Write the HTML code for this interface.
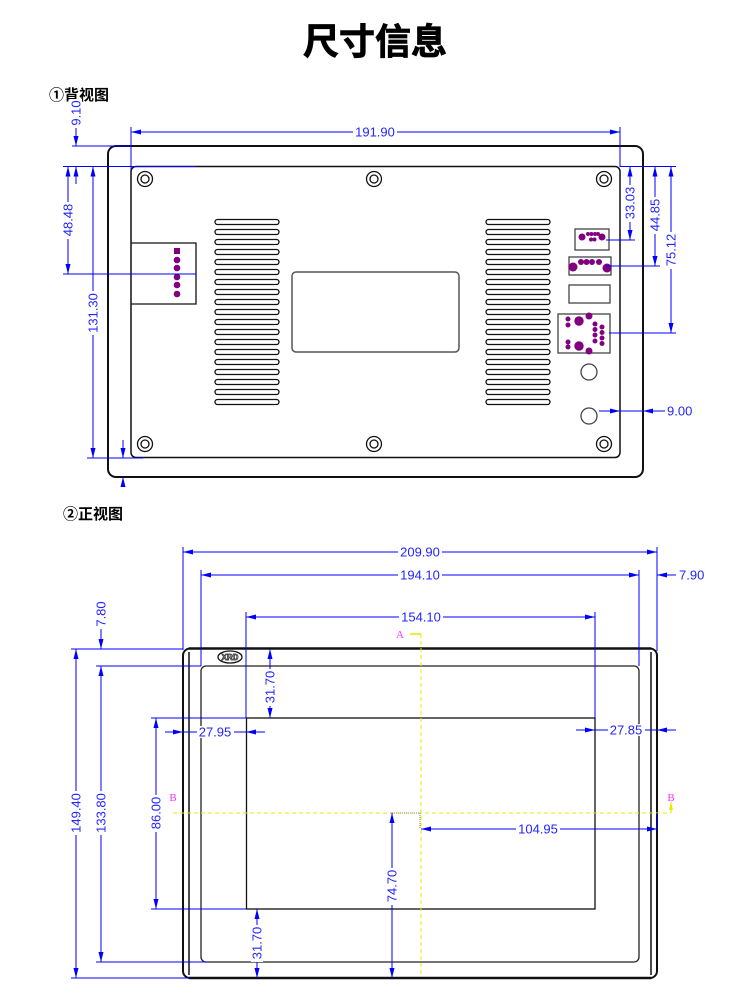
<!DOCTYPE html>
<html><head><meta charset="utf-8"><style>
html,body{margin:0;padding:0;background:#fff;}
svg{display:block}
.d{font-family:"Liberation Sans",sans-serif;font-size:13px;fill:#2424ff;stroke:#fff;stroke-width:3;paint-order:stroke;stroke-linejoin:round}
.b{stroke:#0000ff;stroke-width:1;fill:none}
.k{stroke:#111;fill:none}
.v{stroke:#111;stroke-width:1.3;fill:none}
.p{fill:#800080}
.w{fill:#fff}
</style></head><body>
<svg width="750" height="1000" viewBox="0 0 750 1000" xmlns="http://www.w3.org/2000/svg">
<defs>
<marker id="a" markerUnits="userSpaceOnUse" markerWidth="10" markerHeight="5" viewBox="0 0 10 5" refX="10" refY="2.5" orient="auto-start-reverse"><path d="M0,0L10,2.5L0,5z" fill="#0000ff"/></marker>
<marker id="ay" markerUnits="userSpaceOnUse" markerWidth="8" markerHeight="4" viewBox="0 0 10 5" refX="10" refY="2.5" orient="auto"><path d="M0,0L10,2.5L0,5z" fill="#e8e800"/></marker>
</defs>

<!-- Title -->
<text x="375" y="54" text-anchor="middle" font-family="'Noto Sans CJK SC','WenQuanYi Zen Hei',sans-serif" font-weight="bold" font-size="36" fill="#000" stroke="#000" stroke-width="0.8">尺寸信息</text>
<text x="49" y="100" font-family="'Liberation Sans','Noto Sans CJK SC',sans-serif" font-weight="bold" font-size="15" fill="#000">①背视图</text>
<text x="63" y="519" font-family="'Liberation Sans','Noto Sans CJK SC',sans-serif" font-weight="bold" font-size="15" fill="#000">②正视图</text>

<!-- ================= BACK VIEW ================= -->
<rect x="108" y="146" width="535" height="331" rx="8" class="k" stroke-width="2"/>
<rect x="131" y="166.5" width="489" height="291" rx="5" class="k" stroke-width="1.5"/>

<!-- screw holes -->
<g class="v">
<circle cx="145" cy="179" r="7.5"/><circle cx="145" cy="179" r="4"/>
<circle cx="374" cy="179" r="7.5"/><circle cx="374" cy="179" r="4"/>
<circle cx="604" cy="179" r="7.5"/><circle cx="604" cy="179" r="4"/>
<circle cx="145" cy="444" r="7.5"/><circle cx="145" cy="444" r="4"/>
<circle cx="374" cy="444" r="7.5"/><circle cx="374" cy="444" r="4"/>
<circle cx="604" cy="444" r="7.5"/><circle cx="604" cy="444" r="4"/>
</g>

<!-- left connector -->
<path d="M131,243H196V304H131" class="v"/>
<rect x="174" y="248" width="6" height="6" class="p"/>
<circle cx="177" cy="260" r="3.3" class="p"/>
<circle cx="177" cy="268" r="3.3" class="p"/>
<circle cx="177" cy="277" r="3.3" class="p"/>
<circle cx="177" cy="285" r="3.3" class="p"/>
<circle cx="177" cy="294" r="3.3" class="p"/>

<!-- vents -->
<g class="v">
<rect x="215" y="219.5" width="64" height="5" rx="2.5"/><rect x="215" y="229.5" width="64" height="5" rx="2.5"/><rect x="215" y="239.5" width="64" height="5" rx="2.5"/><rect x="215" y="249.5" width="64" height="5" rx="2.5"/><rect x="215" y="259.5" width="64" height="5" rx="2.5"/><rect x="215" y="269.5" width="64" height="5" rx="2.5"/><rect x="215" y="279.5" width="64" height="5" rx="2.5"/><rect x="215" y="289.5" width="64" height="5" rx="2.5"/><rect x="215" y="299.5" width="64" height="5" rx="2.5"/><rect x="215" y="309.5" width="64" height="5" rx="2.5"/><rect x="215" y="319.5" width="64" height="5" rx="2.5"/><rect x="215" y="329.5" width="64" height="5" rx="2.5"/><rect x="215" y="339.5" width="64" height="5" rx="2.5"/><rect x="215" y="349.5" width="64" height="5" rx="2.5"/><rect x="215" y="359.5" width="64" height="5" rx="2.5"/><rect x="215" y="369.5" width="64" height="5" rx="2.5"/><rect x="215" y="379.5" width="64" height="5" rx="2.5"/><rect x="215" y="389.5" width="64" height="5" rx="2.5"/><rect x="215" y="399.5" width="64" height="5" rx="2.5"/>
<rect x="486" y="219.5" width="64" height="5" rx="2.5"/><rect x="486" y="229.5" width="64" height="5" rx="2.5"/><rect x="486" y="239.5" width="64" height="5" rx="2.5"/><rect x="486" y="249.5" width="64" height="5" rx="2.5"/><rect x="486" y="259.5" width="64" height="5" rx="2.5"/><rect x="486" y="269.5" width="64" height="5" rx="2.5"/><rect x="486" y="279.5" width="64" height="5" rx="2.5"/><rect x="486" y="289.5" width="64" height="5" rx="2.5"/><rect x="486" y="299.5" width="64" height="5" rx="2.5"/><rect x="486" y="309.5" width="64" height="5" rx="2.5"/><rect x="486" y="319.5" width="64" height="5" rx="2.5"/><rect x="486" y="329.5" width="64" height="5" rx="2.5"/><rect x="486" y="339.5" width="64" height="5" rx="2.5"/><rect x="486" y="349.5" width="64" height="5" rx="2.5"/><rect x="486" y="359.5" width="64" height="5" rx="2.5"/><rect x="486" y="369.5" width="64" height="5" rx="2.5"/><rect x="486" y="379.5" width="64" height="5" rx="2.5"/><rect x="486" y="389.5" width="64" height="5" rx="2.5"/><rect x="486" y="399.5" width="64" height="5" rx="2.5"/>
</g>

<!-- center rect -->
<rect x="292" y="272" width="167" height="80" rx="4" fill="none" stroke="#555" stroke-width="1.5"/>

<!-- right connectors -->
<g fill="none" stroke="#444" stroke-width="1.3">
<rect x="575" y="229" width="34" height="21"/>
<rect x="569" y="257" width="42" height="18"/>
<rect x="569" y="285" width="41" height="18"/>
<rect x="558" y="314" width="52" height="39"/>
<circle cx="589" cy="372" r="8"/>
<circle cx="589" cy="416" r="8"/>
</g>
<g class="p">
<circle cx="582" cy="237" r="3.5"/><circle cx="602" cy="237" r="3.5"/>
<circle cx="588" cy="234" r="2"/><circle cx="591.5" cy="234" r="2"/><circle cx="595" cy="234" r="2"/><circle cx="598" cy="234" r="2"/>
<circle cx="591" cy="239.5" r="2"/><circle cx="594.5" cy="239.5" r="2"/>
<circle cx="573" cy="267" r="4.5"/><circle cx="607" cy="268" r="4.5"/>
<circle cx="581" cy="262" r="3"/><circle cx="586.5" cy="262" r="3"/><circle cx="592" cy="262" r="3"/><circle cx="599" cy="262" r="3"/>
<circle cx="568" cy="319" r="2.5"/><circle cx="568" cy="325" r="2.5"/><circle cx="579" cy="321" r="4.7"/><circle cx="589" cy="316" r="3.5"/>
<circle cx="595" cy="324" r="2.5"/><circle cx="595" cy="329.5" r="2.5"/><circle cx="595" cy="335" r="2.5"/><circle cx="595" cy="341" r="2.5"/>
<circle cx="602" cy="327" r="2.5"/><circle cx="602" cy="332.5" r="2.5"/><circle cx="602" cy="338" r="2.5"/><circle cx="602" cy="343.5" r="2.5"/>
<circle cx="568" cy="342" r="2.5"/><circle cx="568" cy="347" r="2.5"/><circle cx="579" cy="346" r="4.7"/><circle cx="589" cy="351" r="3.5"/>
</g>

<!-- back view dimension lines -->
<g class="b">
<line x1="131" y1="132" x2="620" y2="132" marker-start="url(#a)" marker-end="url(#a)"/>
<line x1="131" y1="127" x2="131" y2="170"/>
<line x1="620" y1="127" x2="620" y2="167"/>
<line x1="72" y1="146" x2="131" y2="146"/>
<line x1="63" y1="166.5" x2="196" y2="166.5"/>
<line x1="63" y1="274" x2="196" y2="274"/>
<line x1="87" y1="458" x2="143" y2="458"/>
<line x1="76" y1="124" x2="76" y2="146" marker-end="url(#a)"/>
<line x1="76" y1="184" x2="76" y2="166.5" marker-end="url(#a)"/>
<line x1="68" y1="166.5" x2="68" y2="274" marker-start="url(#a)" marker-end="url(#a)"/>
<line x1="93" y1="166.5" x2="93" y2="458" marker-start="url(#a)" marker-end="url(#a)"/>
<line x1="123" y1="440" x2="123" y2="458" marker-end="url(#a)"/>
<line x1="123" y1="487" x2="123" y2="477" marker-end="url(#a)"/>
<line x1="620" y1="166.5" x2="676" y2="166.5"/>
<line x1="606" y1="240" x2="635" y2="240"/>
<line x1="606" y1="266" x2="660" y2="266"/>
<line x1="609" y1="333" x2="676" y2="333"/>
<line x1="630" y1="166.5" x2="630" y2="240" marker-start="url(#a)" marker-end="url(#a)"/>
<line x1="655" y1="166.5" x2="655" y2="266" marker-start="url(#a)" marker-end="url(#a)"/>
<line x1="671" y1="166.5" x2="671" y2="333" marker-start="url(#a)" marker-end="url(#a)"/>
<line x1="599" y1="411" x2="620" y2="411" marker-end="url(#a)"/>
<line x1="620" y1="411" x2="643" y2="411"/>
<line x1="665" y1="411" x2="643" y2="411" marker-end="url(#a)"/>
</g>
<!-- text backgrounds back -->
<rect class="w" x="353" y="126" width="44" height="12"/>
<rect class="w" x="70" y="99" width="12" height="29"/>
<rect class="w" x="62" y="202" width="12" height="37"/>
<rect class="w" x="87" y="291" width="12" height="44"/>
<rect class="w" x="624" y="185" width="12" height="37"/>
<rect class="w" x="649" y="197" width="12" height="37"/>
<rect class="w" x="665" y="232" width="12" height="37"/>
<text class="d" x="375" y="136.5" text-anchor="middle">191.90</text>
<text class="d" transform="translate(76,113) rotate(-90)" text-anchor="middle" dy="0.35em">9.10</text>
<text class="d" transform="translate(68,220) rotate(-90)" text-anchor="middle" dy="0.35em">48.48</text>
<text class="d" transform="translate(93,313) rotate(-90)" text-anchor="middle" dy="0.35em">131.30</text>
<text class="d" transform="translate(630,203) rotate(-90)" text-anchor="middle" dy="0.35em">33.03</text>
<text class="d" transform="translate(655,215) rotate(-90)" text-anchor="middle" dy="0.35em">44.85</text>
<text class="d" transform="translate(671,250) rotate(-90)" text-anchor="middle" dy="0.35em">75.12</text>
<text class="d" x="667" y="415.5">9.00</text>

<!-- ================= FRONT VIEW ================= -->
<rect x="183" y="648.5" width="474" height="329.5" rx="7" class="k" stroke-width="2"/>
<line x1="189" y1="652" x2="189" y2="975" stroke="#111" stroke-width="1.5"/>
<line x1="651" y1="652" x2="651" y2="975" stroke="#111" stroke-width="1.5"/>
<line x1="189" y1="648.5" x2="651" y2="648.5" stroke="#111" stroke-width="2.5"/>
<line x1="189" y1="978" x2="651" y2="978" stroke="#111" stroke-width="2.5"/>
<rect x="201" y="666" width="438" height="296" rx="5" fill="none" stroke="#222" stroke-width="1.3"/>
<rect x="246.5" y="718" width="348.5" height="191" fill="none" stroke="#111" stroke-width="1.3"/>

<!-- XRD logo -->
<ellipse cx="230" cy="657" rx="12" ry="6" fill="none" stroke="#111" stroke-width="1.3"/>
<text x="230" y="660" text-anchor="middle" font-family="'Liberation Sans',sans-serif" font-size="8" font-weight="bold" fill="#fff" stroke="#111" stroke-width="0.7">XRD</text>

<!-- yellow centerlines -->
<line x1="421" y1="634" x2="421" y2="975" stroke="#e8e800" stroke-width="1" stroke-dasharray="4,3"/>
<line x1="410" y1="634" x2="421" y2="634" stroke="#e8e800" stroke-width="1.5"/>
<line x1="173" y1="813" x2="671" y2="813" stroke="#e8e800" stroke-width="1" stroke-dasharray="4,3"/>
<line x1="671" y1="813" x2="671" y2="802" stroke="#e8e800" stroke-width="1.2" marker-end="url(#ay)"/>
<text x="400" y="638" text-anchor="middle" font-family="'Liberation Serif',serif" font-size="11" fill="#ff33ff">A</text>
<text x="173" y="801" text-anchor="middle" font-family="'Liberation Serif',serif" font-size="11" fill="#ff33ff">B</text>
<text x="671" y="801" text-anchor="middle" font-family="'Liberation Serif',serif" font-size="11" fill="#ff33ff">B</text>
<path d="M390,813H420V829" fill="none" stroke="#888" stroke-width="1" stroke-dasharray="1,1"/>

<g class="b">
<line x1="183" y1="552" x2="657" y2="552" marker-start="url(#a)" marker-end="url(#a)"/>
<line x1="183" y1="547" x2="183" y2="650"/>
<line x1="657" y1="547" x2="657" y2="651"/>
<line x1="201" y1="575" x2="639" y2="575" marker-start="url(#a)" marker-end="url(#a)"/>
<line x1="201" y1="570" x2="201" y2="666"/>
<line x1="639" y1="570" x2="639" y2="666"/>
<line x1="676" y1="575" x2="657" y2="575" marker-end="url(#a)"/>
<line x1="246" y1="617" x2="595" y2="617" marker-start="url(#a)" marker-end="url(#a)"/>
<line x1="246" y1="612" x2="246" y2="718"/>
<line x1="595" y1="612" x2="595" y2="718"/>
<line x1="165" y1="732" x2="183" y2="732" marker-end="url(#a)"/>
<line x1="183" y1="732" x2="246" y2="732"/>
<line x1="265" y1="732" x2="246" y2="732" marker-end="url(#a)"/>
<line x1="576" y1="730" x2="595" y2="730" marker-end="url(#a)"/>
<line x1="595" y1="730" x2="657" y2="730"/>
<line x1="676" y1="730" x2="657" y2="730" marker-end="url(#a)"/>
<line x1="71" y1="649" x2="183" y2="649"/>
<line x1="96" y1="666" x2="201" y2="666"/>
<line x1="151" y1="718" x2="246" y2="718"/>
<line x1="151" y1="909" x2="246" y2="909"/>
<line x1="96" y1="962" x2="207" y2="962"/>
<line x1="71" y1="978" x2="190" y2="978"/>
<line x1="76" y1="649" x2="76" y2="978" marker-start="url(#a)" marker-end="url(#a)"/>
<line x1="101" y1="666" x2="101" y2="962" marker-start="url(#a)" marker-end="url(#a)"/>
<line x1="101" y1="627" x2="101" y2="649" marker-end="url(#a)"/>
<line x1="156" y1="718" x2="156" y2="909" marker-start="url(#a)" marker-end="url(#a)"/>
<line x1="270" y1="649" x2="270" y2="718" marker-start="url(#a)" marker-end="url(#a)"/>
<line x1="257" y1="909" x2="257" y2="978" marker-start="url(#a)" marker-end="url(#a)"/>
<line x1="392" y1="813" x2="392" y2="978" marker-start="url(#a)" marker-end="url(#a)"/>
<line x1="421" y1="829" x2="657" y2="829" marker-start="url(#a)" marker-end="url(#a)"/>
<line x1="657" y1="813" x2="657" y2="830"/>
</g>
<!-- text backgrounds front -->
<rect class="w" x="398" y="546" width="44" height="12"/>
<rect class="w" x="398" y="569" width="44" height="12"/>
<rect class="w" x="399" y="611" width="44" height="12"/>
<rect class="w" x="197" y="726" width="37" height="12"/>
<rect class="w" x="608" y="724" width="37" height="12"/>
<rect class="w" x="516" y="823" width="44" height="12"/>
<rect class="w" x="95" y="600" width="12" height="29"/>
<rect class="w" x="70" y="791" width="12" height="44"/>
<rect class="w" x="95" y="791" width="12" height="44"/>
<rect class="w" x="150" y="795" width="12" height="37"/>
<rect class="w" x="264" y="669" width="12" height="37"/>
<rect class="w" x="251" y="925" width="12" height="37"/>
<rect class="w" x="386" y="868" width="12" height="37"/>
<text class="d" x="420" y="556.5" text-anchor="middle">209.90</text>
<text class="d" x="420" y="579.5" text-anchor="middle">194.10</text>
<text class="d" x="421" y="621.5" text-anchor="middle">154.10</text>
<text class="d" x="679" y="579.5">7.90</text>
<text class="d" x="215" y="736.5" text-anchor="middle">27.95</text>
<text class="d" x="626" y="734.5" text-anchor="middle">27.85</text>
<text class="d" x="538" y="833.5" text-anchor="middle">104.95</text>
<text class="d" transform="translate(101,614) rotate(-90)" text-anchor="middle" dy="0.35em">7.80</text>
<text class="d" transform="translate(76,813) rotate(-90)" text-anchor="middle" dy="0.35em">149.40</text>
<text class="d" transform="translate(101,813) rotate(-90)" text-anchor="middle" dy="0.35em">133.80</text>
<text class="d" transform="translate(156,813) rotate(-90)" text-anchor="middle" dy="0.35em">86.00</text>
<text class="d" transform="translate(270,687) rotate(-90)" text-anchor="middle" dy="0.35em">31.70</text>
<text class="d" transform="translate(257,943) rotate(-90)" text-anchor="middle" dy="0.35em">31.70</text>
<text class="d" transform="translate(392,886) rotate(-90)" text-anchor="middle" dy="0.35em">74.70</text>
</svg>
</body></html>
